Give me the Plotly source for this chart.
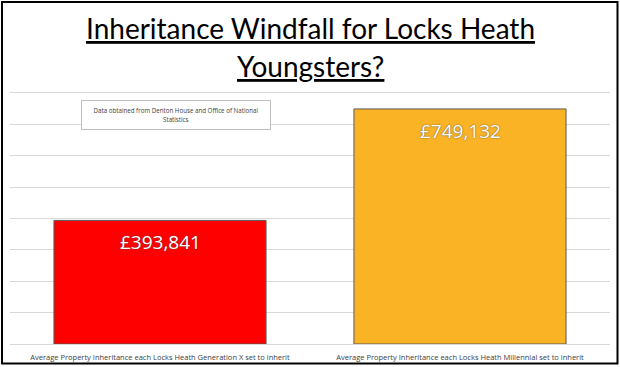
import plotly.graph_objects as go

categories = [
    "Average Property Inheritance each Locks Heath Generation X set to inherit",
    "Average Property Inheritance each Locks Heath Millennial set to inherit",
]
values = [393841, 749132]
value_labels = ["£393,841", "£749,132"]
bar_colors = ["#FF0000", "#FAB325"]

W, H = 620, 367
ml, mr, mt, mb = 10, 10, 90, 23
pw, ph = W - ml - mr, H - mt - mb

def px_x(x):
    return (x - ml) / pw

def px_y(y):
    return (H - mb - y) / ph

fig = go.Figure(
    go.Bar(
        x=categories,
        y=values,
        marker=dict(color=bar_colors, line=dict(color="#595959", width=1)),
        hoverinfo="skip",
    )
)

annotations = [
    dict(
        text="Inheritance Windfall for Locks Heath",
        xref="paper", yref="paper", x=px_x(310), y=px_y(28),
        xanchor="center", yanchor="middle", showarrow=False,
        font=dict(family="Lato", size=28, color="#000000", lineposition="under"),
    ),
    dict(
        text="Youngsters?",
        xref="paper", yref="paper", x=px_x(310), y=px_y(66),
        xanchor="center", yanchor="middle", showarrow=False,
        font=dict(family="Lato", size=28, color="#000000", lineposition="under"),
    ),
    dict(
        text="Data obtained from Denton House and Office of National<br>Statistics",
        xref="paper", yref="paper", x=px_x(176), y=px_y(115),
        xanchor="center", yanchor="middle", showarrow=False,
        font=dict(family="Open Sans", size=6.2, color="#404040"),
        bordercolor="#BFBFBF", borderwidth=1, bgcolor="#FFFFFF",
        width=186, height=26, align="center",
    ),
]
for c, v, t in zip(categories, values, value_labels):
    annotations.append(dict(
        text=t, x=c, y=v, xref="x", yref="y",
        xanchor="center", yanchor="top", yshift=-7, showarrow=False,
        font=dict(family="Open Sans", size=19, color="#FFFFFF",
                  shadow="0px 0px 1.5px #404040"),
    ))

fig.update_layout(
    width=W,
    height=H,
    margin=dict(l=ml, r=mr, t=mt, b=mb, autoexpand=False),
    paper_bgcolor="#FFFFFF",
    plot_bgcolor="#FFFFFF",
    bargap=0.293,
    showlegend=False,
    xaxis=dict(
        showgrid=False,
        showline=False,
        ticks="",
        automargin=False,
        tickfont=dict(family="Open Sans", size=7.5, color="#404040"),
        ticklabelstandoff=7,
    ),
    yaxis=dict(
        range=[0, 809500],
        dtick=100000,
        showticklabels=False,
        showgrid=True,
        automargin=False,
        gridcolor="#D9D9D9",
        gridwidth=1,
        zeroline=True,
        zerolinecolor="#D9D9D9",
        zerolinewidth=1,
        showline=False,
    ),
    shapes=[
        dict(
            type="rect", xref="paper", yref="paper",
            x0=px_x(2), x1=px_x(617.5), y0=px_y(363.5), y1=px_y(2),
            line=dict(color="#000000", width=2), fillcolor="rgba(0,0,0,0)",
            layer="above",
        ),
    ],
    annotations=annotations,
)

fig.write_html(
    "out.html",
    config={"displayModeBar": False},
    post_script="document.body.style.margin='0';document.body.style.overflow='hidden';",
)
